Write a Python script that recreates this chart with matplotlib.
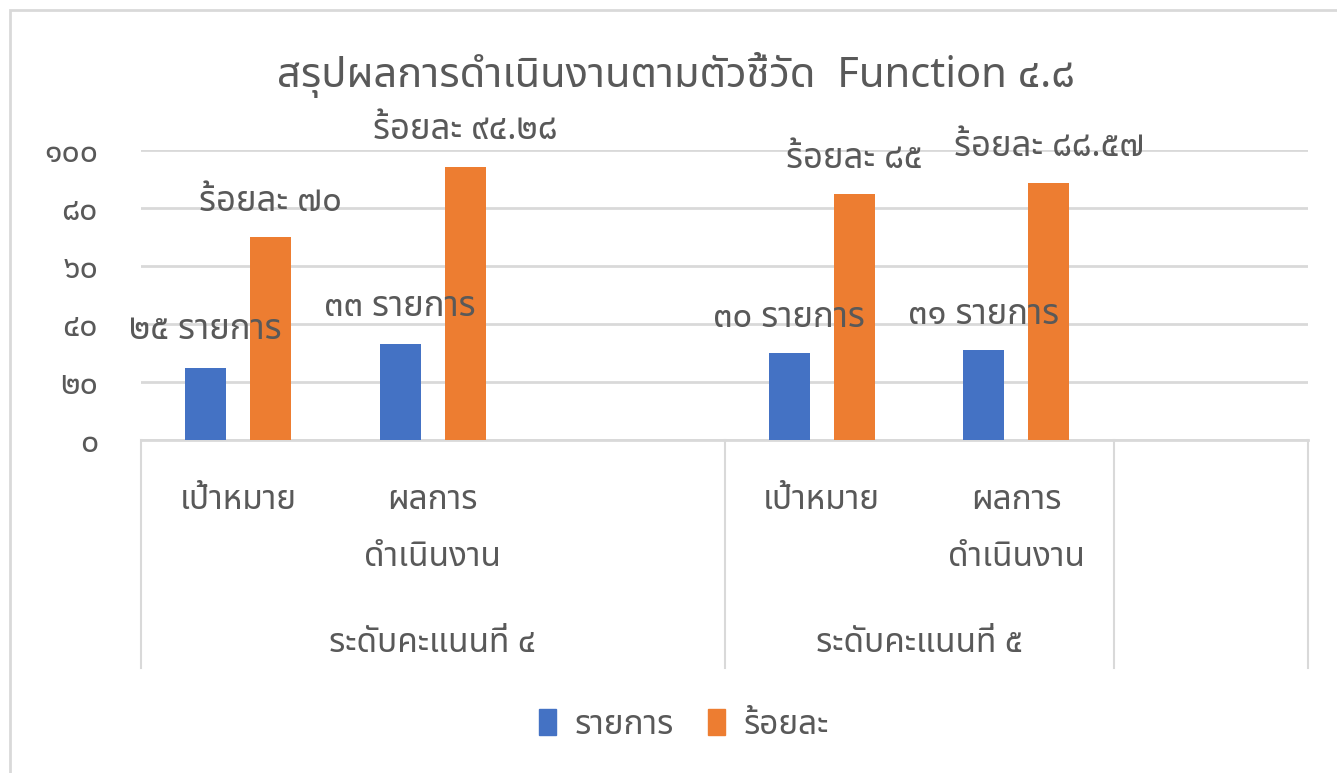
import numpy as np
import matplotlib
matplotlib.use('Agg')
import matplotlib.pyplot as plt
from matplotlib.patches import Rectangle, Patch

plt.rcParams['font.family'] = ['Noto Sans Thai', 'Noto Sans', 'DejaVu Sans']

# data
categories = ['เป้าหมาย', 'ผลการ\nดำเนินงาน', '', 'เป้าหมาย', 'ผลการ\nดำเนินงาน', '']
groups = ['ระดับคะแนนที่ ๔', 'ระดับคะแนนที่ ๕', '']
group_sizes = [3, 2, 1]
items = [25, 33, None, 30, 31, None]          # รายการ
percent = [70, 94.28, None, 85, 88.57, None]  # ร้อยละ
series_names = ['รายการ', 'ร้อยละ']
yticks = [0, 20, 40, 60, 80, 100]

# where Excel left the (hand-moved) data labels, in data units
items_label_y = [38, 46, None, 42, 43, None]
percent_label_y = [82, 107, None, 97, 101, None]

BLUE = '#4472C4'
ORANGE = '#ED7D31'
GREY_TXT = '#595959'
GRID = '#D9D9D9'

THAI = str.maketrans('0123456789', '๐๑๒๓๔๕๖๗๘๙')


def thai(v):
    return ('%g' % v).translate(THAI)


fig = plt.figure(figsize=(13.37, 7.73), dpi=100)
ax = fig.add_axes([141 / 1337, 1 - 440 / 773, 1167 / 1337, 290 / 773])

x = np.arange(len(categories))
w = 0.21
off = 0.167
for i in x:
    if items[i] is not None:
        ax.bar(i - off, items[i], w, color=BLUE, zorder=3)
        ax.bar(i + off, percent[i], w, color=ORANGE, zorder=3)
        ax.text(i - off, items_label_y[i], thai(items[i]) + ' รายการ', ha='center', va='center',
                fontsize=25, color=GREY_TXT, zorder=4)
        ax.text(i + off, percent_label_y[i], 'ร้อยละ ' + thai(percent[i]), ha='center', va='center',
                fontsize=25, color=GREY_TXT, zorder=4, clip_on=False)

ax.set_xlim(-0.5, len(categories) - 0.5)
ax.set_ylim(0, 100)
ax.set_yticks(yticks)
ax.set_yticklabels([thai(t) for t in yticks], fontsize=23, color=GREY_TXT)
ax.tick_params(axis='y', length=0, pad=31)
ax.set_xticks([])
ax.grid(axis='y', color=GRID, linewidth=2, zorder=0)
for s in ['top', 'right', 'left']:
    ax.spines[s].set_visible(False)
ax.spines['bottom'].set_color(GRID)
ax.spines['bottom'].set_linewidth(2)

# multi-level category axis
tr = ax.get_xaxis_transform()
edges = np.concatenate([[-0.5], -0.5 + np.cumsum(group_sizes)])
for e in edges:
    ax.plot([e, e], [0, -0.786], transform=tr, color=GRID, linewidth=1.5, clip_on=False)
for i, lab in enumerate(categories):
    for k, line in enumerate(lab.split('\n')):
        ax.text(i, -0.207 - 0.197 * k, line, transform=tr, ha='center', va='center',
                fontsize=24, color=GREY_TXT)
for g, lab in enumerate(groups):
    ax.text((edges[g] + edges[g + 1]) / 2, -0.70, lab, transform=tr, ha='center', va='center',
            fontsize=24, color=GREY_TXT)

fig.text(676 / 1337, 1 - 75 / 773, 'สรุปผลการดำเนินงานตามตัวชี้วัด  Function ๔.๘', ha='center', va='center',
         fontsize=30, color=GREY_TXT)

handles = [Patch(color=BLUE), Patch(color=ORANGE)]
fig.legend(handles, series_names, loc='center', bbox_to_anchor=(684 / 1337, 1 - 725 / 773), ncol=2,
           frameon=False, fontsize=24, handlelength=0.5, handleheight=0.8, handletextpad=0.55,
           columnspacing=1.05, labelcolor=GREY_TXT)

fig.patches.append(Rectangle((10 / 1337, -0.05), 1.1, 1 - 10 / 773 + 0.05, transform=fig.transFigure,
                             fill=False, edgecolor=GRID, linewidth=2))

fig.savefig('out.png')
